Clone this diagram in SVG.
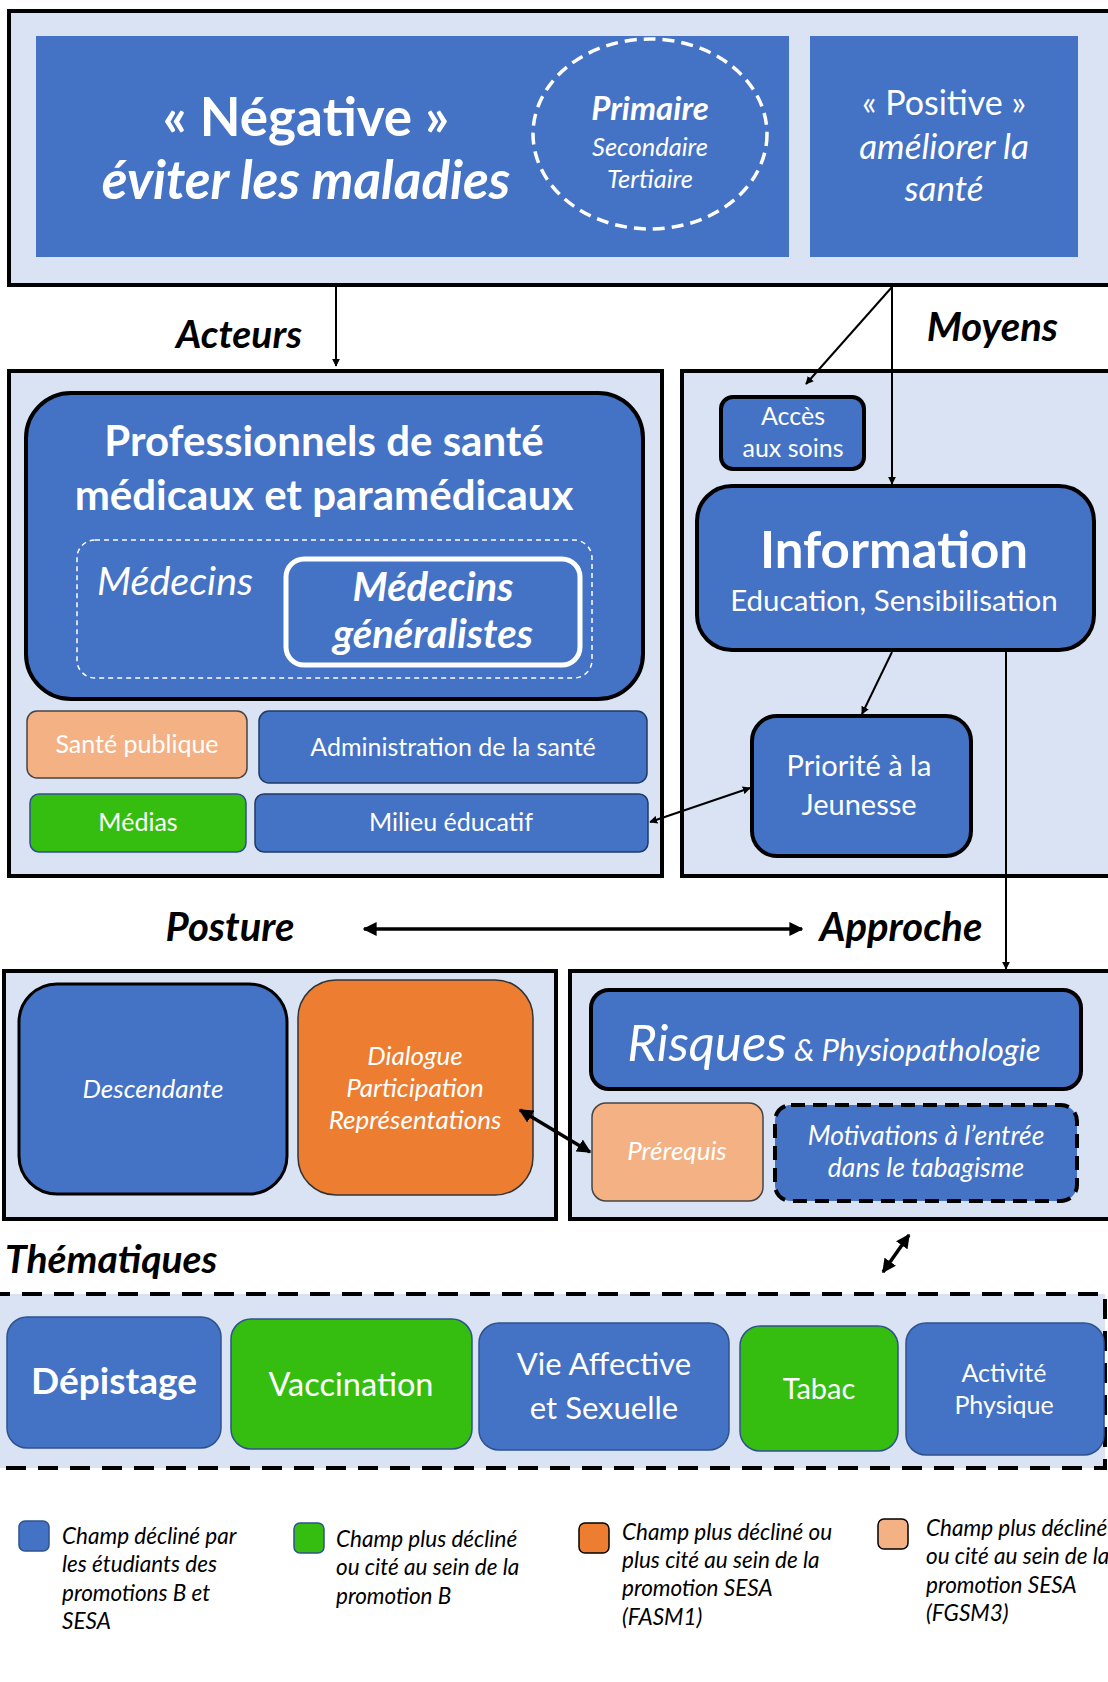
<svg xmlns="http://www.w3.org/2000/svg" width="1108" height="1682" viewBox="0 0 1108 1682">
<defs>
<style>
.t{font-family:Lato,"Open Sans","Liberation Sans",sans-serif;fill:#fff;text-anchor:middle}
.k{font-family:Lato,"Open Sans","Liberation Sans",sans-serif;fill:#000;font-weight:bold;font-style:italic}
.lg{font-family:Lato,"Open Sans","Liberation Sans",sans-serif;fill:#000;font-style:italic;font-size:22.5px}
.panel{fill:#DAE3F3;stroke:#000;stroke-width:4}
.blue{fill:#4472C4}
.bk{stroke:#000;stroke-width:4}
.thin{stroke:#2F528F;stroke-width:1.5}
.green{fill:#35BE10}
.peach{fill:#F4B183}
.orange{fill:#ED7D31}
.ln{stroke:#000;stroke-width:2;fill:none}
.lnb{stroke:#000;stroke-width:3.5;fill:none}
</style>
<marker id="ah" viewBox="0 0 10 10" refX="9" refY="5" markerWidth="8" markerHeight="8" orient="auto-start-reverse" markerUnits="userSpaceOnUse">
<path d="M0,0 L10,5 L0,10 z" fill="#000"/>
</marker>
<marker id="ah2" viewBox="0 0 10 10" refX="9" refY="5" markerWidth="14" markerHeight="14" orient="auto-start-reverse" markerUnits="userSpaceOnUse">
<path d="M0,0 L10,5 L0,10 z" fill="#000"/>
</marker>
</defs>
<rect width="1108" height="1682" fill="#fff"/>

<g id="prevention">
<rect class="panel" x="9" y="11" width="1110" height="274"/>
</g>
<g id="negative">
<rect class="blue" x="36" y="36" width="753" height="221"/>
<text class="t" x="306" y="136" font-size="53" font-weight="bold">« Négative »</text>
<text class="t" x="306" y="199" font-size="53" font-weight="bold" font-style="italic">éviter les maladies</text>
</g>
<g id="niveaux">
<ellipse cx="650" cy="134" rx="117" ry="95" fill="none" stroke="#fff" stroke-width="3.5" stroke-dasharray="12,7"/>
<text class="t" x="650" y="120" font-size="33" font-weight="bold" font-style="italic">Primaire</text>
<text class="t" x="650" y="156" font-size="25.5" font-style="italic">Secondaire</text>
<text class="t" x="650" y="188" font-size="25.5" font-style="italic">Tertiaire</text>
</g>
<g id="positive">
<rect class="blue" x="810" y="36" width="268" height="221"/>
<text class="t" x="944" y="115" font-size="34">« Positive »</text>
<text class="t" x="944" y="159" font-size="35" font-style="italic">améliorer la</text>
<text class="t" x="944" y="201" font-size="35" font-style="italic">santé</text>
</g>

<g id="labels">
<text class="k" x="302" y="348" font-size="39" text-anchor="end">Acteurs</text>
<text class="k" x="1058" y="341" font-size="40" text-anchor="end">Moyens</text>
<text class="k" x="230" y="941" font-size="40" text-anchor="middle">Posture</text>
<text class="k" x="901" y="941" font-size="40" text-anchor="middle">Approche</text>
<text class="k" x="5" y="1273" font-size="39">Thématiques</text>
</g>

<g id="acteurs">
<rect class="panel" x="9" y="371" width="653" height="505"/>
</g>
<g id="professionnels">
<rect class="blue bk" x="26" y="393" width="617" height="306" rx="45"/>
<text class="t" x="324" y="456" font-size="42" font-weight="bold">Professionnels de santé</text>
<text class="t" x="324" y="510" font-size="42" font-weight="bold">médicaux et paramédicaux</text>
<rect x="77" y="540" width="515" height="138" rx="18" fill="none" stroke="#fff" stroke-width="1.5" stroke-dasharray="5,4"/>
<text class="t" x="175" y="595" font-size="39.5" font-style="italic">Médecins</text>
</g>
<g id="generalistes">
<rect class="blue" x="286" y="559" width="294" height="106" rx="18" stroke="#fff" stroke-width="5"/>
<text class="t" x="433" y="601" font-size="40" font-weight="bold" font-style="italic">Médecins</text>
<text class="t" x="433" y="648" font-size="40" font-weight="bold" font-style="italic">généralistes</text>
</g>
<g id="sante-publique">
<rect class="peach" x="27" y="711" width="220" height="67" rx="10" stroke="#444" stroke-width="1.5"/>
<text class="t" x="137" y="753" font-size="25">Santé publique</text>
</g>
<g id="administration">
<rect class="blue" x="259" y="711" width="388" height="72" rx="10" stroke="#1F3A66" stroke-width="1.5"/>
<text class="t" x="453" y="756" font-size="25">Administration de la santé</text>
</g>
<g id="medias">
<rect class="green" x="30" y="794" width="216" height="58" rx="9" stroke="#2F528F" stroke-width="1.5"/>
<text class="t" x="138" y="831" font-size="25">Médias</text>
</g>
<g id="milieu-educatif">
<rect class="blue" x="255" y="794" width="393" height="58" rx="9" stroke="#1F3A66" stroke-width="1.5"/>
<text class="t" x="451" y="831" font-size="25">Milieu éducatif</text>
</g>

<g id="moyens">
<rect class="panel" x="682" y="371" width="440" height="505"/>
</g>
<g id="acces">
<rect class="blue bk" x="721" y="397" width="143" height="72" rx="12" stroke-width="3.5"/>
<text class="t" x="793" y="425" font-size="25">Accès</text>
<text class="t" x="793" y="457" font-size="25">aux soins</text>
</g>
<g id="information">
<rect class="blue bk" x="697" y="486" width="397" height="164" rx="35"/>
<text class="t" x="894" y="568" font-size="51" font-weight="bold">Information</text>
<text class="t" x="894" y="611" font-size="29.5">Education, Sensibilisation</text>
</g>
<g id="jeunesse">
<rect class="blue bk" x="752" y="716" width="219" height="140" rx="25"/>
<text class="t" x="859" y="776" font-size="29">Priorité à la</text>
<text class="t" x="859" y="815" font-size="29">Jeunesse</text>
</g>

<g id="posture">
<rect class="panel" x="4" y="971" width="552" height="248"/>
</g>
<g id="descendante">
<rect class="blue" x="19" y="984" width="268" height="210" rx="38" stroke="#000" stroke-width="3"/>
<text class="t" x="153" y="1098" font-size="26" font-style="italic">Descendante</text>
</g>
<g id="dialogue">
<rect class="orange" x="298" y="980" width="235" height="215" rx="38" stroke="#333" stroke-width="1.5"/>
<text class="t" x="415" y="1065" font-size="26" font-style="italic">Dialogue</text>
<text class="t" x="415" y="1097" font-size="26" font-style="italic">Participation</text>
<text class="t" x="415" y="1129" font-size="26" font-style="italic">Représentations</text>
</g>

<g id="approche">
<rect class="panel" x="570" y="971" width="550" height="248"/>
</g>
<g id="risques">
<rect class="blue bk" x="591" y="990" width="490" height="99" rx="18"/>
<text class="t" x="834" y="1061" font-style="italic"><tspan font-size="51">Risques</tspan><tspan font-size="31"> &amp; Physiopathologie</tspan></text>
</g>
<g id="prerequis">
<rect class="peach" x="592" y="1103" width="171" height="98" rx="14" stroke="#444" stroke-width="1.5"/>
<text class="t" x="677" y="1160" font-size="26" font-style="italic">Prérequis</text>
</g>
<g id="motivations">
<rect class="blue" x="775" y="1105" width="302" height="96" rx="16" stroke="#000" stroke-width="4" stroke-dasharray="14,8"/>
<text class="t" x="926" y="1145" font-size="26.5" font-style="italic">Motivations à l’entrée</text>
<text class="t" x="926" y="1177" font-size="26.5" font-style="italic">dans le tabagisme</text>
</g>

<g id="thematiques">
<rect x="-10" y="1294" width="1115" height="174" fill="#DAE3F3" stroke="#000" stroke-width="4" stroke-dasharray="20,12"/>
</g>
<g id="depistage">
<rect class="blue thin" x="7" y="1317" width="214" height="131" rx="20"/>
<text class="t" x="114" y="1394" font-size="37" font-weight="bold">Dépistage</text>
</g>
<g id="vaccination">
<rect class="green thin" x="231" y="1319" width="241" height="130" rx="20"/>
<text class="t" x="351" y="1396" font-size="32.5">Vaccination</text>
</g>
<g id="vie-affective">
<rect class="blue thin" x="479" y="1323" width="250" height="127" rx="20"/>
<text class="t" x="604" y="1375" font-size="31">Vie Affective</text>
<text class="t" x="604" y="1419" font-size="31">et Sexuelle</text>
</g>
<g id="tabac">
<rect class="green thin" x="740" y="1326" width="158" height="125" rx="20"/>
<text class="t" x="819" y="1399" font-size="29">Tabac</text>
</g>
<g id="activite">
<rect class="blue thin" x="906" y="1323" width="198" height="132" rx="20"/>
<text class="t" x="1004" y="1382" font-size="25">Activité</text>
<text class="t" x="1004" y="1414" font-size="25">Physique</text>
</g>

<g id="legende">
<rect x="19" y="1521" width="30" height="30" rx="6" fill="#4472C4" stroke="#2F528F" stroke-width="1.5"/>
<text class="lg"><tspan x="62" y="1544">Champ décliné par</tspan><tspan x="62" y="1572">les étudiants des</tspan><tspan x="62" y="1601">promotions B et</tspan><tspan x="62" y="1629">SESA</tspan></text>
<rect x="294" y="1523" width="30" height="30" rx="6" fill="#35BE10" stroke="#2F528F" stroke-width="1.5"/>
<text class="lg"><tspan x="336" y="1547">Champ plus décliné</tspan><tspan x="336" y="1575">ou cité au sein de la</tspan><tspan x="336" y="1604">promotion B</tspan></text>
<rect x="579" y="1523" width="30" height="30" rx="6" fill="#ED7D31" stroke="#000" stroke-width="1.5"/>
<text class="lg"><tspan x="622" y="1540">Champ plus décliné ou</tspan><tspan x="622" y="1568">plus cité au sein de la</tspan><tspan x="622" y="1596">promotion SESA</tspan><tspan x="622" y="1625">(FASM1)</tspan></text>
<rect x="878" y="1519" width="30" height="30" rx="6" fill="#F4B183" stroke="#000" stroke-width="1.5"/>
<text class="lg"><tspan x="926" y="1536">Champ plus décliné</tspan><tspan x="926" y="1564">ou cité au sein de la</tspan><tspan x="926" y="1593">promotion SESA</tspan><tspan x="926" y="1621">(FGSM3)</tspan></text>
</g>

<g id="connecteurs">
<line class="ln" x1="336" y1="287" x2="336" y2="366" marker-end="url(#ah)"/>
<line class="ln" x1="892" y1="287" x2="806" y2="384" marker-end="url(#ah)"/>
<line class="ln" x1="892" y1="287" x2="892" y2="484" marker-end="url(#ah)"/>
<line class="ln" x1="892" y1="652" x2="862" y2="714" marker-end="url(#ah)"/>
<line class="ln" x1="1006" y1="650" x2="1006" y2="969" marker-end="url(#ah)"/>
<line class="ln" x1="650" y1="822" x2="750" y2="788" marker-start="url(#ah)" marker-end="url(#ah)"/>
<line class="lnb" x1="364" y1="929" x2="802" y2="929" marker-start="url(#ah2)" marker-end="url(#ah2)"/>
<line class="lnb" x1="520" y1="1110" x2="590" y2="1152" marker-start="url(#ah2)" marker-end="url(#ah2)"/>
<line class="lnb" x1="883" y1="1272" x2="909" y2="1235" marker-start="url(#ah2)" marker-end="url(#ah2)"/>
</g>
</svg>
